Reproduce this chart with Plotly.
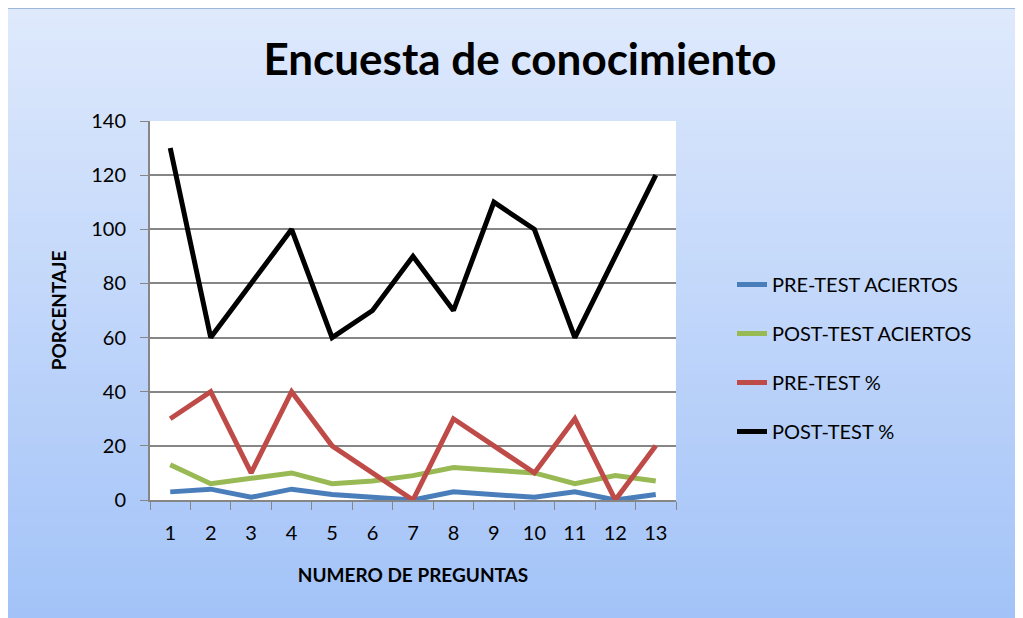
import plotly.graph_objects as go

# page body keeps an 8px margin, so the figure is placed at (8, 8)
OFF = 8
W, H = 1023 - OFF, 618 - OFF
L, R, T, B = 150 - OFF, 347, 121 - OFF, 118

preguntas = [str(i) for i in range(1, 14)]
pre_aciertos = [3, 4, 1, 4, 2, 1, 0, 3, 2, 1, 3, 0, 2]
post_aciertos = [13, 6, 8, 10, 6, 7, 9, 12, 11, 10, 6, 9, 7]
pre_pct = [30, 40, 10, 40, 20, 10, 0, 30, 20, 10, 30, 0, 20]
post_pct = [130, 60, 80, 100, 60, 70, 90, 70, 110, 100, 60, 90, 120]

series = [
    ("PRE-TEST ACIERTOS", pre_aciertos, "#4a7ebb"),
    ("POST-TEST ACIERTOS", post_aciertos, "#98b954"),
    ("PRE-TEST %", pre_pct, "#be4b48"),
    ("POST-TEST %", post_pct, "#000000"),
]

FONT = "Lato"

fig = go.Figure()
for i, (name, vals, color) in enumerate(series):
    fig.add_trace(
        go.Scatter(
            x=preguntas,
            y=vals,
            name=name,
            mode="lines",
            line=dict(color=color, width=5),
            legendgroup=f"g{i}",
        )
    )


# helpers: screen pixel (reference coords) -> paper coords
def px_x(p):
    return (p - OFF - L) / (W - L - R)


def px_y(p):
    return (H - B - (p - OFF)) / (H - T - B)


# gradient background built from thin bands
shapes = []
n = 60
top = (222, 233, 252)
bot = (163, 195, 248)
for k in range(n):
    f = k / (n - 1)
    c = tuple(round(top[j] + (bot[j] - top[j]) * f) for j in range(3))
    y0 = 8 + (618 - 8) * k / n
    y1 = 8 + (618 - 8) * (k + 1) / n + 1
    shapes.append(
        dict(
            type="rect", xref="paper", yref="paper", layer="below",
            x0=px_x(5), x1=px_x(1026), y0=px_y(y1), y1=px_y(y0),
            fillcolor=f"rgb{c}", line=dict(width=0),
        )
    )
shapes.append(
    dict(
        type="rect", xref="paper", yref="paper", layer="below",
        x0=px_x(5), x1=px_x(1026), y0=px_y(620), y1=px_y(8),
        fillcolor="rgba(0,0,0,0)", line=dict(color="#8aa6cf", width=1.5),
    )
)
# white plot area
shapes.append(
    dict(
        type="rect", xref="paper", yref="paper", layer="below",
        x0=0, x1=1, y0=0, y1=1,
        fillcolor="white", line=dict(width=0),
    )
)

fig.update_layout(
    width=W,
    height=H,
    margin=dict(l=L, r=R, t=T, b=B),
    paper_bgcolor="white",
    plot_bgcolor="white",
    shapes=shapes,
    font=dict(family=FONT, size=20, color="black"),
    title=dict(
        text="<b>Encuesta de conocimiento</b>",
        font=dict(family=FONT, size=44, color="black"),
        x=(520 - OFF) / W, xanchor="center",
        y=1 - (60 - OFF) / H, yanchor="middle",
    ),
    showlegend=True,
    legend=dict(
        x=px_x(732), y=px_y(265), xanchor="left", yanchor="top",
        bgcolor="rgba(0,0,0,0)",
        font=dict(family=FONT, size=20),
        traceorder="grouped",
        tracegroupgap=20,
    ),
    xaxis=dict(
        type="category",
        tickson="boundaries",
        ticks="outside",
        ticklen=8,
        tickcolor="#868686",
        showgrid=False,
        showline=True,
        linecolor="#868686",
        linewidth=2,
        range=[-0.5, 12.5],
        tickfont=dict(size=20),
        ticklabelstandoff=14,
        title=dict(text="<b>NUMERO DE PREGUNTAS</b>", font=dict(size=19), standoff=26),
    ),
    yaxis=dict(
        range=[0, 140],
        dtick=20,
        ticks="outside",
        ticklen=8,
        tickcolor="#868686",
        showgrid=True,
        gridcolor="#868686",
        gridwidth=1.5,
        showline=True,
        linecolor="#868686",
        linewidth=2,
        zeroline=False,
        tickfont=dict(size=20),
        ticklabelstandoff=10,
        title=dict(text="<b>PORCENTAJE</b>", font=dict(size=19), standoff=20),
    ),
)

fig.write_html("out.html")
